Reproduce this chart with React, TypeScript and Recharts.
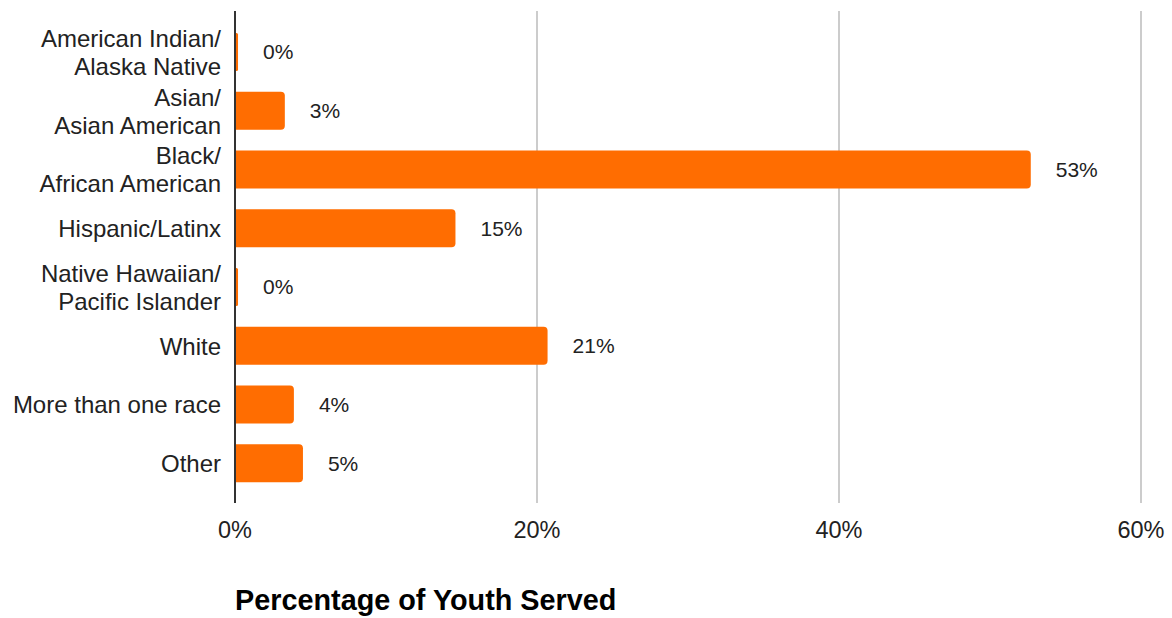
import React from "react";
import { BarChart, Bar, XAxis, YAxis, CartesianGrid, LabelList } from "recharts";

const categories = [
  "American Indian/\nAlaska Native",
  "Asian/\nAsian American",
  "Black/\nAfrican American",
  "Hispanic/Latinx",
  "Native Hawaiian/\nPacific Islander",
  "White",
  "More than one race",
  "Other",
];
const percentServed = [0.2, 3.3, 52.7, 14.6, 0.2, 20.7, 3.9, 4.5];
const xTicks = [0, 20, 40, 60];

const data = categories.map((name, i) => ({ name, value: percentServed[i] }));

const FONT = "Arial, 'Liberation Sans', sans-serif";
const TEXT = "#222";

function CategoryTick(props: any) {
  const { x, y, payload } = props;
  const lines = String(payload.value).split("\n");
  const lineH = 28;
  const first = y - ((lines.length - 1) * lineH) / 2 + 8.5;
  return (
    <text x={x} y={first} textAnchor="end" fill={TEXT} fontSize={24} fontFamily={FONT}>
      {lines.map((l, i) => (
        <tspan key={i} x={x} y={first + i * lineH}>
          {l}
        </tspan>
      ))}
    </text>
  );
}

function AxisTitle(props: any) {
  const { viewBox } = props;
  return (
    <text x={viewBox.x} y={610} fill="#000" fontSize={28.8} fontWeight="bold" fontFamily={FONT}>
      Percentage of Youth Served
    </text>
  );
}

export default function App() {
  return (
    <div style={{ position: "absolute", left: 0, top: 0, width: 1172, height: 618, background: "#fff" }}>
      <BarChart
        width={1172}
        height={618}
        data={data}
        layout="vertical"
        margin={{ top: 11, right: 31, left: 0, bottom: 85 }}
        barSize={38}
      >
        <CartesianGrid horizontal={false} stroke="#cccccc" strokeWidth={2} />
        <XAxis
          type="number"
          domain={[0, 60]}
          ticks={xTicks}
          tickFormatter={(v) => `${v}%`}
          axisLine={false}
          tickLine={false}
          tickMargin={12}
          height={30}
          tick={{ fill: TEXT, fontSize: 23.5, fontFamily: FONT }}
          label={<AxisTitle />}
        />
        <YAxis
          type="category"
          dataKey="name"
          width={235}
          axisLine={{ stroke: "#333", strokeWidth: 2 }}
          tickLine={false}
          tickSize={0}
          tickMargin={14}
          padding={{ top: 12, bottom: 10 }}
          interval={0}
          tick={<CategoryTick />}
        />
        <Bar dataKey="value" fill="#ff6d01" radius={[0, 4, 4, 0]} isAnimationActive={false}>
          <LabelList
            dataKey="value"
            position="right"
            offset={25}
            formatter={(v: any) => `${Math.round(Number(v))}%`}
            fill={TEXT}
            fontSize={21}
            fontFamily={FONT}
          />
        </Bar>
      </BarChart>
    </div>
  );
}
